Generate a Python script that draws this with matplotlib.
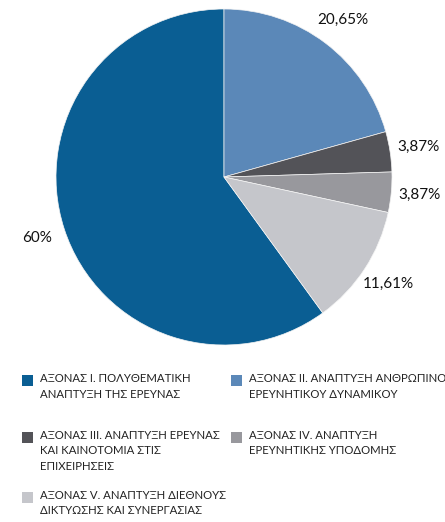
"""Pie chart of funding share by axis (Greek labels)."""

import matplotlib
matplotlib.use("Agg")
import matplotlib.pyplot as plt
from matplotlib.patches import Rectangle

plt.rcParams["font.family"] = ["Lato", "DejaVu Sans"]

LABELS = [
    "ΑΞΟΝΑΣ Ι. ΠΟΛΥΘΕΜΑΤΙΚΗ\nΑΝΑΠΤΥΞΗ ΤΗΣ ΕΡΕΥΝΑΣ",
    "ΑΞΟΝΑΣ ΙΙ. ΑΝΑΠΤΥΞΗ ΑΝΘΡΩΠΙΝΟΥ\nΕΡΕΥΝΗΤΙΚΟΥ ΔΥΝΑΜΙΚΟΥ",
    "ΑΞΟΝΑΣ ΙΙΙ. ΑΝΑΠΤΥΞΗ ΕΡΕΥΝΑΣ\nΚΑΙ ΚΑΙΝΟΤΟΜΙΑ ΣΤΙΣ\nΕΠΙΧΕΙΡΗΣΕΙΣ",
    "ΑΞΟΝΑΣ ΙV. ΑΝΑΠΤΥΞΗ\nΕΡΕΥΝΗΤΙΚΗΣ ΥΠΟΔΟΜΗΣ",
    "ΑΞΟΝΑΣ V. ΑΝΑΠΤΥΞΗ ΔΙΕΘΝΟΥΣ\nΔΙΚΤΥΩΣΗΣ ΚΑΙ ΣΥΝΕΡΓΑΣΙΑΣ",
]
VALUES = [60.0, 20.65, 3.87, 3.87, 11.61]
PCT_TEXT = ["60%", "20,65%", "3,87%", "3,87%", "11,61%"]
COLORS = ["#0a5e93", "#5b88b8", "#535358", "#98989d", "#c5c6cb"]


def main() -> None:
    fig = plt.figure(figsize=(4.45, 5.22), dpi=100)

    # pie: centre ~ (224, 177) px, radius ~ 168 px
    ax = fig.add_axes([56 / 445, 1 - 345 / 522, 336 / 445, 336 / 522])
    # first slice ends at the top, going clockwise from there
    start = 90 + VALUES[0] / sum(VALUES) * 360
    wedges, texts = ax.pie(
        VALUES, labels=PCT_TEXT, colors=COLORS, startangle=start,
        counterclock=False, labeldistance=1.17,
        wedgeprops=dict(edgecolor="#f4f4f4", linewidth=0.5),
        textprops=dict(fontsize=11, color="#111111"),
    )
    for t in texts:
        t.set_horizontalalignment("center")
        t.set_verticalalignment("center")
    ax.set_xlim(-1, 1)
    ax.set_ylim(-1, 1)
    ax.set_aspect("equal")
    ax.axis("off")

    # legend laid out by hand, two columns
    col_x = [22, 231]
    row_y = [380, 437, 497]
    for i, (lab, col) in enumerate(zip(LABELS, COLORS)):
        cx = col_x[i % 2]
        cy = row_y[i // 2]
        fig.patches.append(Rectangle(
            ((cx) / 445, 1 - (cy + 6) / 522), 11 / 445, 11 / 522,
            transform=fig.transFigure, facecolor=col, edgecolor="none"))
        fig.text((cx + 18) / 445, 1 - (cy - 7) / 522, lab, fontsize=8.2,
                 color="#222222", va="top", ha="left", linespacing=1.5)

    plt.savefig("out.png", dpi=100)


if __name__ == "__main__":
    main()
